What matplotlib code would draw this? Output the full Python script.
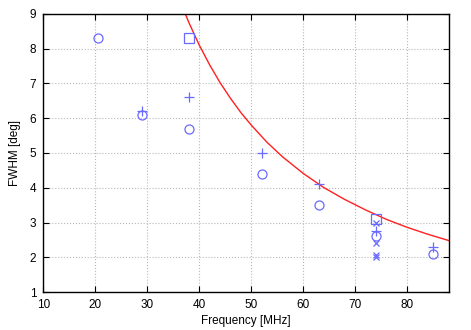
import matplotlib
matplotlib.use("Agg")
import matplotlib.pyplot as plt

plt.rcParams["font.family"] = ["Liberation Sans", "DejaVu Sans"]

# ---- measured points (grouped by marker) ----
circle_f = [20.5, 29.0, 38.0, 52.0, 63.0, 74.0, 85.0]
circle_w = [8.3, 6.1, 5.7, 4.4, 3.5, 2.6, 2.1]

plus_f = [29.0, 38.0, 52.0, 63.0, 74.0, 85.0]
plus_w = [6.22, 6.6, 5.0, 4.1, 2.75, 2.3]

square_f = [38.0, 74.0]
square_w = [8.3, 3.1]

cross_f = [74.0, 74.0, 74.0, 74.0]
cross_w = [3.0, 2.4, 2.06, 2.0]

# ---- red model curve ----
curve_f = [37.3, 38, 39, 40, 42, 44, 46, 48, 50, 53, 56, 60, 64, 68, 72, 76, 80, 84, 88]
curve_w = [9.0, 8.75, 8.42, 8.1, 7.53, 7.02, 6.57, 6.16, 5.8, 5.31, 4.89, 4.41,
           4.0, 3.66, 3.36, 3.09, 2.86, 2.66, 2.48]

x_ticks = [10, 20, 30, 40, 50, 60, 70, 80]
y_ticks = [1, 2, 3, 4, 5, 6, 7, 8, 9]

blue = "#6a6aff"

fig = plt.figure(figsize=(4.71, 3.30), dpi=100)
ax = fig.add_axes([0.092, 0.115, 0.861, 0.843])

ax.plot(curve_f, curve_w, color="#ff2020", lw=1.0, zorder=2)
ax.plot(circle_f, circle_w, ls="none", marker="o", ms=6.5, mfc="none",
        mec=blue, mew=0.9, zorder=3)
ax.plot(plus_f, plus_w, ls="none", marker="+", ms=7, mec=blue, mew=0.9, zorder=3)
ax.plot(square_f, square_w, ls="none", marker="s", ms=6.5, mfc="none",
        mec=blue, mew=0.9, zorder=3)
ax.plot(cross_f, cross_w, ls="none", marker="x", ms=4, mec=blue, mew=0.9, zorder=3)

ax.set_xlim(10, 88)
ax.set_ylim(1, 9)
ax.set_xticks(x_ticks)
ax.set_yticks(y_ticks)
ax.grid(True, color="#b8b8b8", ls=":", lw=0.8)
ax.tick_params(direction="in", top=True, right=True, length=4, width=0.8,
               labelsize=8.5, pad=5)
for s in ax.spines.values():
    s.set_linewidth(1.0)

ax.set_xlabel("Frequency [MHz]", fontsize=8.5, labelpad=3)
ax.set_ylabel("FWHM [deg]", fontsize=8.5, labelpad=6)

fig.savefig("out.png", dpi=100)
